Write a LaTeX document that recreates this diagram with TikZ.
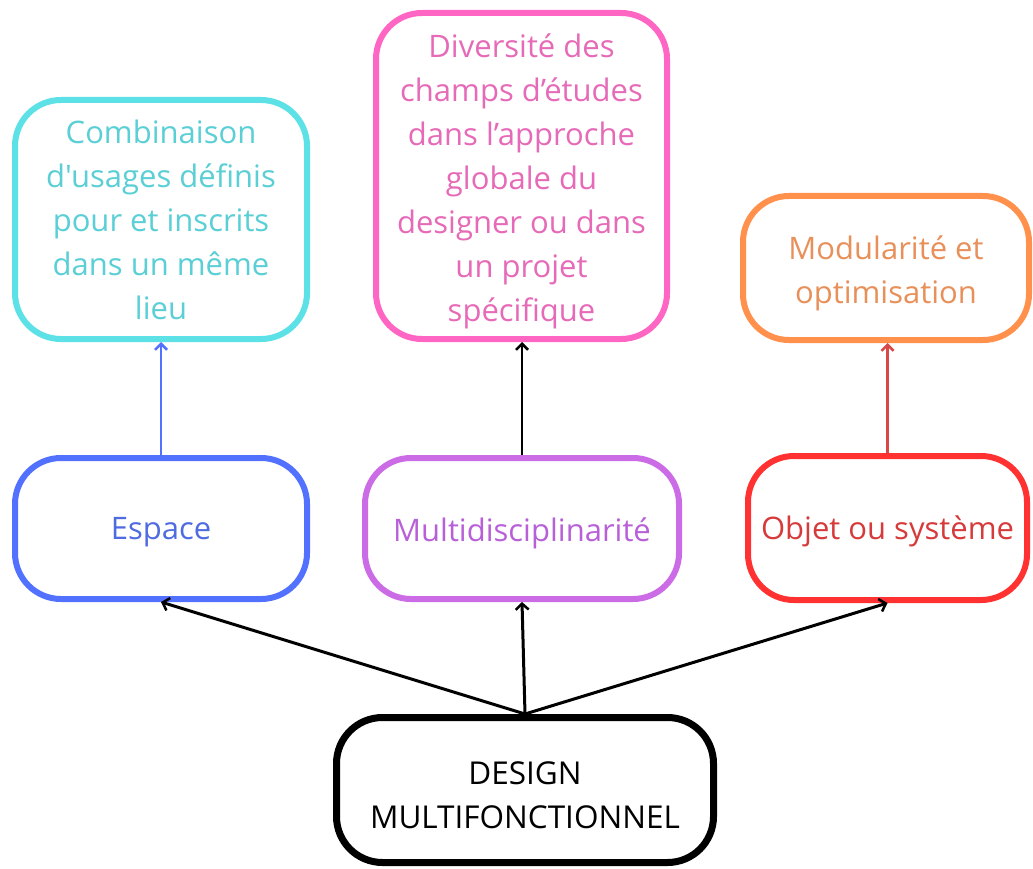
\documentclass[tikz,border=0pt]{standalone}
\usepackage{fontspec}
\setmainfont{Open Sans}[Ligatures=TeXOff]
\usetikzlibrary{arrows.meta}
\definecolor{cyanB}{HTML}{5CE1E6}\definecolor{cyanT}{HTML}{5ACFD6}
\definecolor{pinkB}{HTML}{FF66C4}\definecolor{pinkT}{HTML}{E66AB8}
\definecolor{orB}{HTML}{FF914D}\definecolor{orT}{HTML}{E8905A}
\definecolor{blB}{HTML}{5271FF}\definecolor{blT}{HTML}{4F6BE0}
\definecolor{puB}{HTML}{CB6CE6}\definecolor{puT}{HTML}{B860D8}
\definecolor{reB}{HTML}{FF3131}\definecolor{reT}{HTML}{D63A3A}
\definecolor{reA}{HTML}{D94848}
\newcommand\ctext[2][4pt]{\raisebox{-#1}[\height][\depth]{\begin{tabular}{@{}c@{}}#2\end{tabular}}}
\tikzset{
  box/.style={draw, rectangle, rounded corners=46pt, line width=6pt, fill=white,
    inner sep=0pt, font=\fontsize{31}{44}\selectfont},
  conn/.style={line width=3pt, -{Straight Barb[length=6pt,width=13pt,line width=2.5pt]}},
  upconn/.style={line width=2.5pt, -{Straight Barb[length=6pt,width=12pt,line width=2.5pt]}}
}
\begin{document}
\begin{tikzpicture}[x=1pt,y=-1pt]
\useasboundingbox (0,0) rectangle (1033,869);
\node[box, draw=cyanB, text=cyanT, minimum width=292pt, minimum height=239pt] (comb) at (161,219.5)
  {\ctext[3pt]{Combinaison\\d'usages définis\\pour et inscrits\\dans un même\\lieu}};
\node[box, draw=pinkB, text=pinkT, minimum width=291pt, minimum height=326pt] (div) at (521.5,176)
  {\ctext[5pt]{Diversité des\\champs d’études\\dans l’approche\\globale du\\designer ou dans\\un projet\\spécifique}};
\node[box, draw=orB, text=orT, minimum width=286pt, minimum height=144pt] (mod) at (886,268)
  {\ctext[5pt]{Modularité et\\optimisation}};
\node[box, draw=blB, text=blT, minimum width=292pt, minimum height=141pt] (esp) at (161,528.5) {\ctext[2pt]{Espace}};
\node[box, draw=puB, text=puT, minimum width=314pt, minimum height=141pt] (mul) at (522,528.5) {\ctext[4pt]{Multidisciplinarité}};
\node[box, draw=reB, text=reT, minimum width=279pt, minimum height=144pt] (obj) at (887.5,528) {\ctext[3pt]{Objet ou système}};
\node[box, draw=black, text=black, line width=7pt, minimum width=377pt, minimum height=145pt,
  font=\fontsize{31.5}{44}\selectfont] (des) at (525,790)
  {\ctext[8pt]{DESIGN\\MULTIFONCTIONNEL}};
\draw[upconn, draw=blB] (esp.north) -- (comb.south);
\draw[upconn, draw=black] (mul.north) -- (mul.north |- div.south);
\draw[upconn, draw=reA] (obj.north) -- (obj.north |- mod.south);
\draw[conn] (des.north) -- (esp.south);
\draw[conn] (des.north) -- (mul.south);
\draw[conn] (des.north) -- (obj.south);
\end{tikzpicture}
\end{document}
